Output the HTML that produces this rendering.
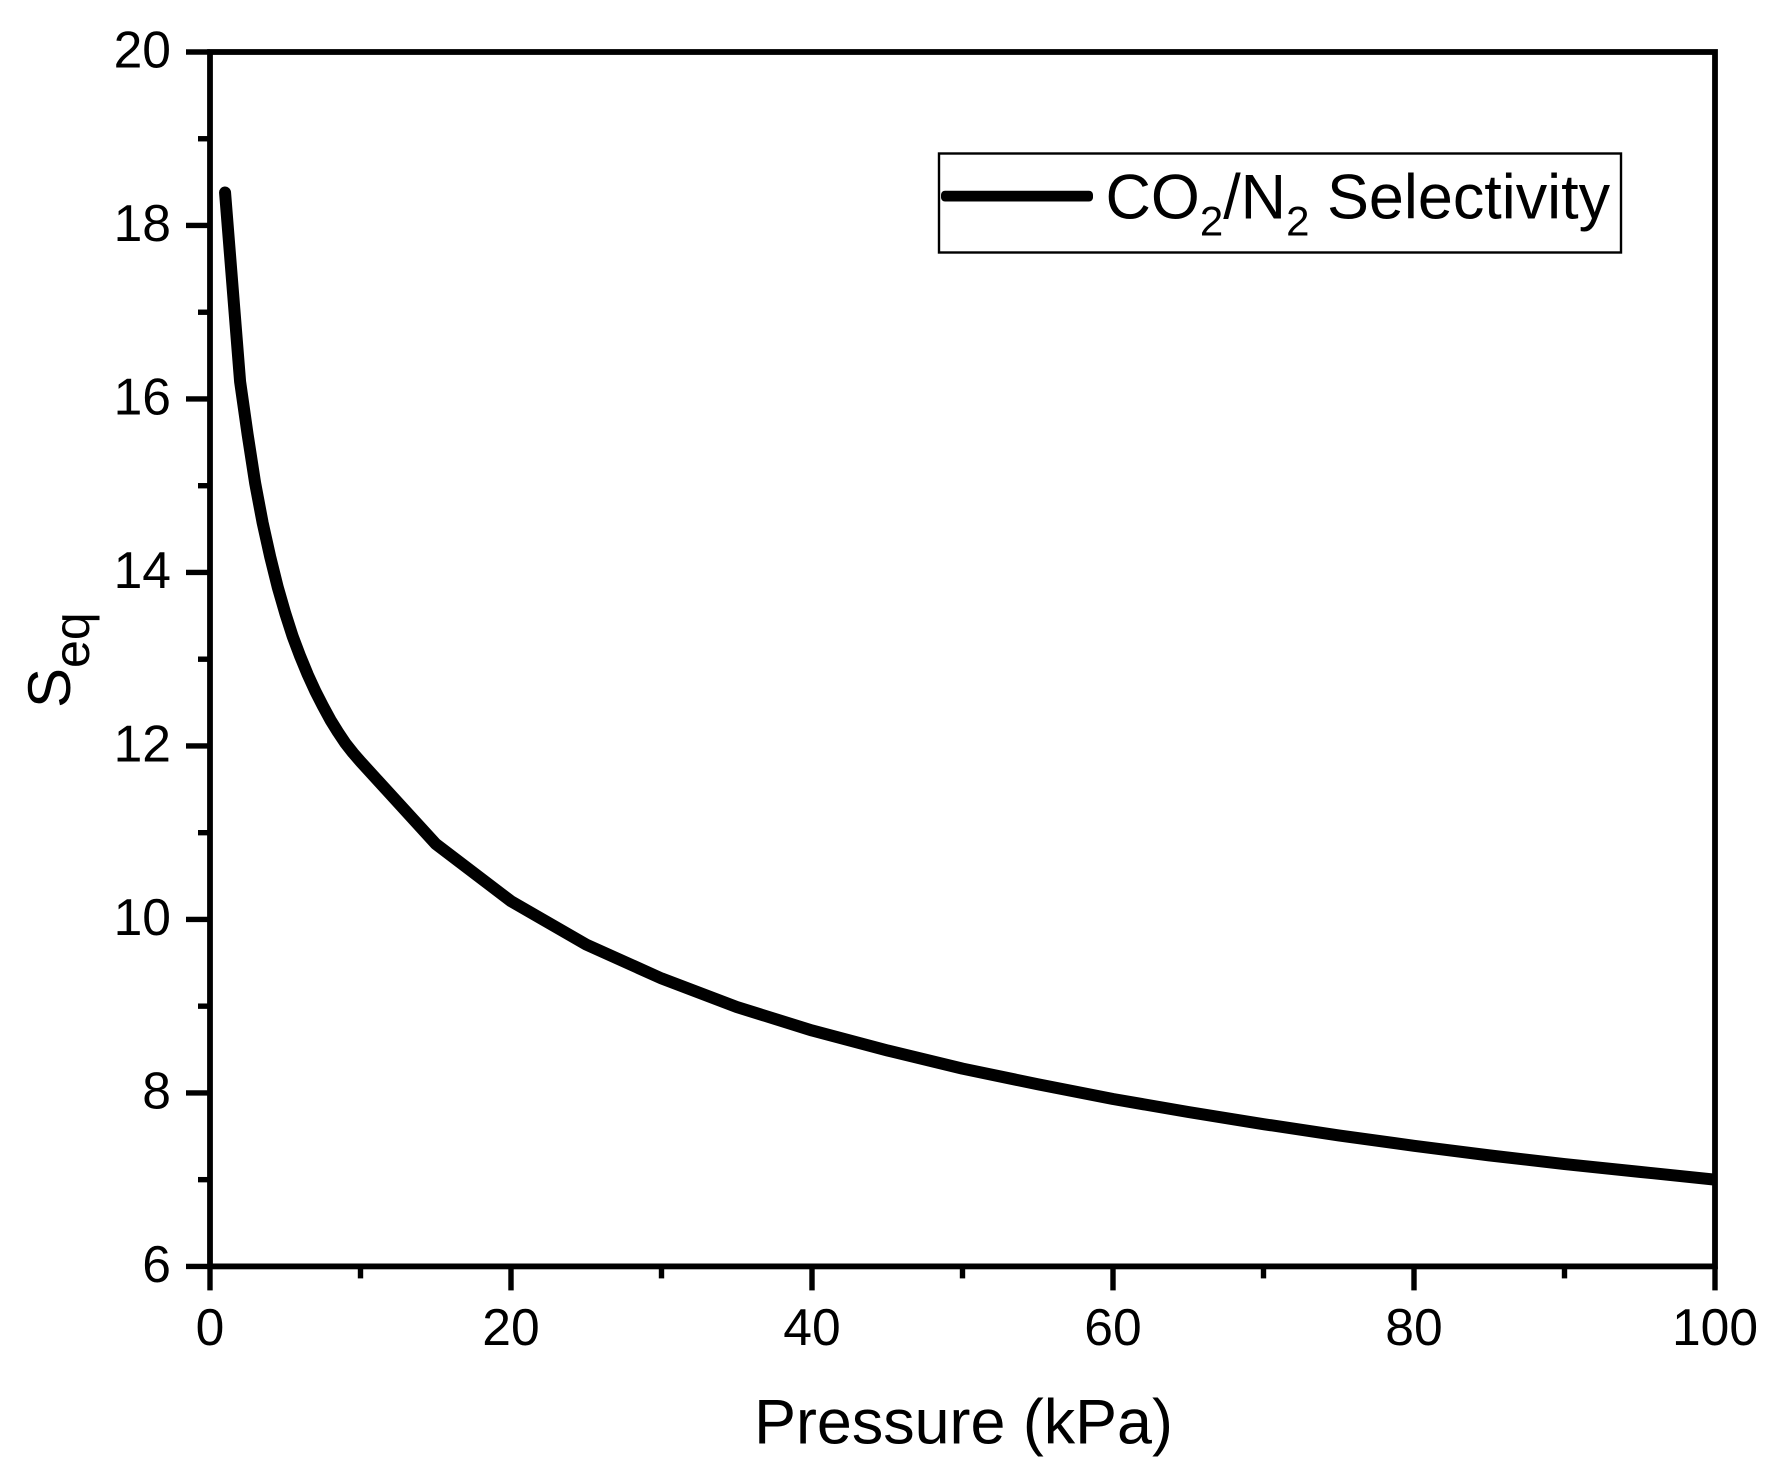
<!DOCTYPE html>
<html lang="en">
<head>
<meta charset="utf-8">
<title>CO2/N2 Selectivity vs Pressure</title>
<style>
html,body{margin:0;padding:0;background:#fff;}
svg{display:block;}
text{font-family:"Liberation Sans",Arial,sans-serif;fill:#000;}
</style>
</head>
<body>
<svg id="chart" xmlns="http://www.w3.org/2000/svg" width="1773" height="1484" viewBox="0 0 1773 1484">
  <defs>
    <clipPath id="plot-clip"><rect x="210" y="52" width="1505" height="1214.4"/></clipPath>
  </defs>
  <rect x="0" y="0" width="1773" height="1484" fill="#fff"/>
  <path id="curve" clip-path="url(#plot-clip)" fill="none" stroke="#000" stroke-width="12" stroke-linejoin="round" stroke-linecap="round"/>
  <g id="ticks"></g>
  <rect x="210" y="52" width="1505" height="1214.4" fill="none" stroke="#000" stroke-width="5.8"/>
  <g id="labels" font-size="51.6"></g>
  <text x="963.5" y="1443.5" font-size="62.8" text-anchor="middle">Pressure (kPa)</text>
  <text transform="translate(70 708) rotate(-90)" font-size="60">S<tspan font-size="50" dy="19">eq</tspan></text>
  <g>
    <rect x="939" y="153.5" width="682" height="99" fill="#fff" stroke="#000" stroke-width="2.4"/>
    <rect x="941" y="190.7" width="152" height="10.8" rx="4" fill="#000"/>
    <text x="1105.5" y="218.5" font-size="62.9">CO<tspan font-size="42" dy="17">2</tspan><tspan dy="-17">/N</tspan><tspan font-size="42" dy="17">2</tspan><tspan dy="-17"> Selectivity</tspan></text>
  </g>
</svg>
<script>
const pressure = [1,2,2.5,3,3.5,4,4.5,5,5.5,6,6.5,7,7.5,8,8.5,9,9.5,10,15,20,25,30,35,40,45,50,55,60,65,70,75,80,85,90,95,100];
const selectivity = [18.38,16.2,15.59,15.03,14.57,14.18,13.83,13.53,13.26,13.03,12.82,12.63,12.46,12.3,12.16,12.03,11.92,11.82,10.87,10.21,9.71,9.32,8.99,8.72,8.49,8.28,8.1,7.93,7.78,7.64,7.51,7.39,7.28,7.18,7.09,7.0];
const xMajorTicks = [0,20,40,60,80,100];
const xMinorTicks = [10,30,50,70,90];
const yMajorTicks = [6,8,10,12,14,16,18,20];
const yMinorTicks = [7,9,11,13,15,17,19];

const SVGNS = 'http://www.w3.org/2000/svg';
const plot = {left:210, right:1715, top:52, bottom:1266.4};
const domainX = [0,100];
const domainY = [6,20];
function xScale(v){ return plot.left + (v-domainX[0])/(domainX[1]-domainX[0])*(plot.right-plot.left); }
function yScale(v){ return plot.bottom - (v-domainY[0])/(domainY[1]-domainY[0])*(plot.bottom-plot.top); }

const curve = document.getElementById('curve');
curve.setAttribute('d', pressure.map(function(p,i){
  return (i ? 'L' : 'M') + xScale(p).toFixed(2) + ' ' + yScale(selectivity[i]).toFixed(2);
}).join(' '));

const tickGroup = document.getElementById('ticks');
const labelGroup = document.getElementById('labels');

function addTick(x1,y1,x2,y2,name){
  const el = document.createElementNS(SVGNS,'line');
  el.setAttribute('x1',x1);
  el.setAttribute('y1',y1);
  el.setAttribute('x2',x2);
  el.setAttribute('y2',y2);
  el.setAttribute('stroke','#000');
  el.setAttribute('stroke-width','5.4');
  
  
  tickGroup.appendChild(el);
}
function addLabel(x,y,anchor,value,name){
  const el = document.createElementNS(SVGNS,'text');
  el.setAttribute('x',x);
  el.setAttribute('y',y);
  el.setAttribute('text-anchor',anchor);
  el.textContent = String(value);
  
  
  labelGroup.appendChild(el);
}

xMajorTicks.forEach(function(v){
  addTick(xScale(v),plot.bottom,xScale(v),plot.bottom+24,'x-major-tick-'+v);
  addLabel(xScale(v),1345,'middle',v,'x-tick-label-'+v);
});
xMinorTicks.forEach(function(v){
  addTick(xScale(v),plot.bottom,xScale(v),plot.bottom+12,'x-minor-tick-'+v);
});
yMajorTicks.forEach(function(v){
  addTick(plot.left,yScale(v),plot.left-24,yScale(v),'y-major-tick-'+v);
  addLabel(171,yScale(v)+15.5,'end',v,'y-tick-label-'+v);
});
yMinorTicks.forEach(function(v){
  addTick(plot.left,yScale(v),plot.left-12,yScale(v),'y-minor-tick-'+v);
});
</script>
</body>
</html>
